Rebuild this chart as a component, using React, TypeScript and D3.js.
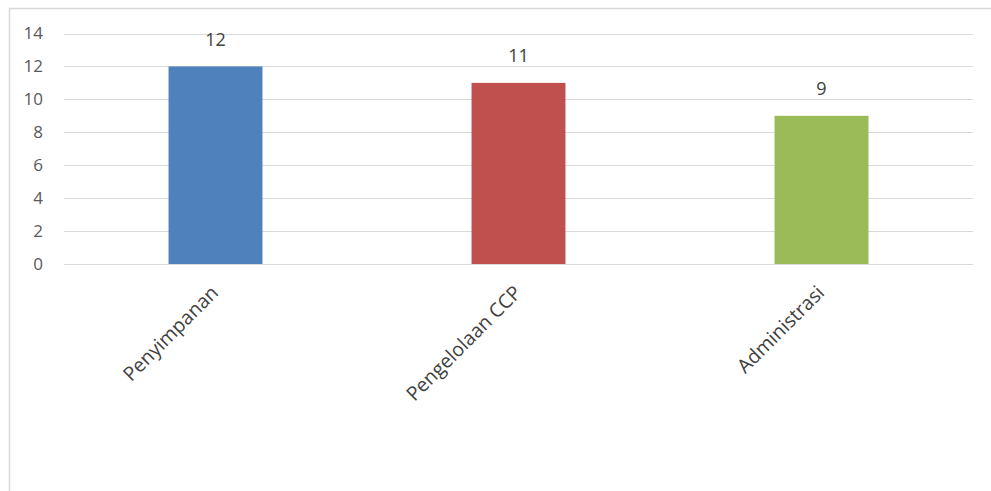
import React from "react";
import * as d3 from "d3";

const categories = ["Penyimpanan", "Pengelolaan CCP", "Administrasi"];
const values = [12, 11, 9];
const colors = ["#4F81BD", "#C0504D", "#9BBB59"];
const yTicks = [0, 2, 4, 6, 8, 10, 12, 14];

export default function App() {
  const W = 991, H = 491;
  const x = d3.scaleBand<string>().domain(categories).range([64, 973]).paddingInner(0.69).paddingOuter(0.345);
  const y = d3.scaleLinear().domain([0, 14]).range([264, 33.5]);
  const font = "'Open Sans', sans-serif";
  return (
    <svg width={W} height={H} style={{ position: "absolute", left: 0, top: 0, background: "#fff" }} fontFamily={font}>
      <rect x={9.5} y={8.5} width={1200} height={1200} fill="#fff" stroke="#D9D9D9" strokeWidth={1.5} />
      {yTicks.map((t) => (
        <g key={t}>
          <line x1={64} x2={973} y1={Math.round(y(t)) + 0.5} y2={Math.round(y(t)) + 0.5} stroke="#D9D9D9" strokeWidth={1.2} />
          <text x={43} y={y(t)} dy="0.35em" textAnchor="end" fontSize={17} fill="#595959">{t}</text>
        </g>
      ))}
      {categories.map((c, i) => {
        const bx = x(c)!;
        const cx = bx + x.bandwidth() / 2;
        return (
          <g key={c}>
            <rect x={bx} y={y(values[i])} width={x.bandwidth()} height={y(0) - y(values[i])} fill={colors[i]} />
            <text x={cx} y={y(values[i]) - 27} dy="0.35em" textAnchor="middle" fontSize={18} fill="#404040">{values[i]}</text>
            <text transform={`translate(${cx + 4},${294}) rotate(-45)`} textAnchor="end" fontSize={19.5} fill="#404040">{c}</text>
          </g>
        );
      })}
    </svg>
  );
}
